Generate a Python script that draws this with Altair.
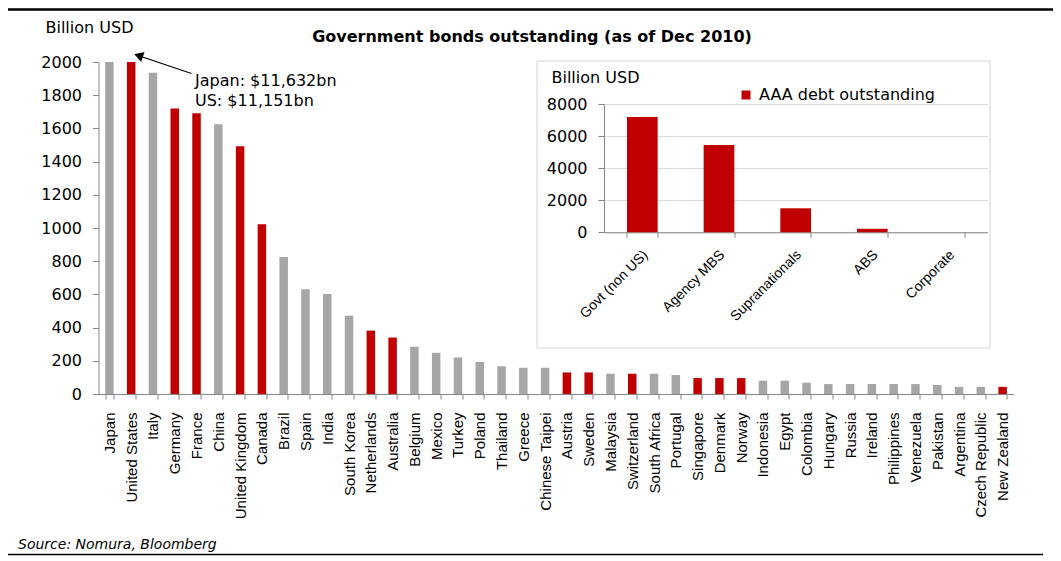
import altair as alt
import pandas as pd

# ---------------- data ----------------
countries = [
    "Japan", "United States", "Italy", "Germany", "France", "China",
    "United Kingdom", "Canada", "Brazil", "Spain", "India", "South Korea",
    "Netherlands", "Australia", "Belgium", "Mexico", "Turkey", "Poland",
    "Thailand", "Greece", "Chinese Taipei", "Austria", "Sweden", "Malaysia",
    "Switzerland", "South Africa", "Portugal", "Singapore", "Denmark",
    "Norway", "Indonesia", "Egypt", "Colombia", "Hungary", "Russia",
    "Ireland", "Philippines", "Venezuela", "Pakistan", "Argentina",
    "Czech Republic", "New Zealand",
]
values = [
    11632, 11151, 1935, 1720, 1692, 1625,
    1492, 1022, 825, 631, 603, 472,
    382, 340, 285, 248, 220, 193,
    167, 158, 158, 130, 130, 122,
    122, 122, 114, 96, 96,
    96, 80, 80, 68, 60, 60,
    60, 60, 60, 54, 43,
    43, 43,
]
aaa_countries = [
    "United States", "Germany", "France", "United Kingdom", "Canada",
    "Netherlands", "Australia", "Austria", "Sweden", "Switzerland",
    "Singapore", "Denmark", "Norway", "New Zealand",
]
main_y_ticks = [0, 200, 400, 600, 800, 1000, 1200, 1400, 1600, 1800, 2000]

inset_categories = ["Govt (non US)", "Agency MBS", "Supranationals", "ABS", "Corporate"]
inset_values = [7200, 5450, 1500, 220, 0]
inset_y_ticks = [0, 2000, 4000, 6000, 8000]

title_text = "Government bonds outstanding (as of Dec 2010)"
annotation_lines = ["Japan:  $11,632bn", "US: $11,151bn"]
source_text = "Source: Nomura, Bloomberg"
unit_text = "Billion USD"
legend_label = "AAA  debt outstanding"

RED = "#C00000"
GREY = "#A6A6A6"
AXIS = "#868686"
HFONT = "DejaVu Sans"
VFONT = "Liberation Sans"

# ---------------- layout (plot area in pixels) ----------------
W, H = 915, 332
PAD = {"left": 90.5, "top": 54, "right": 39.5, "bottom": 163}
IX0, IX1 = 505.5, 888.8      # inset x range inside plot coords
IY0, IY1 = 170.3, 42.3       # inset y range (0 -> 8000)

# ---------------- main bars ----------------
df = pd.DataFrame({
    "country": countries,
    "value": values,
    "rating": ["AAA" if c in aaa_countries else "Other" for c in countries],
})

bars = alt.Chart(df).mark_bar().encode(
    x=alt.X(
        "country:N", sort=countries,
        scale=alt.Scale(paddingInner=0.61, paddingOuter=0.305),
        axis=alt.Axis(
            title=None, orient="bottom", labelAngle=270, labelAlign="right",
            labelBaseline="middle", labelFont=VFONT, labelFontSize=15,
            labelColor="black", labelPadding=13, labelOverlap=False,
            labelLimit=0, tickBand="extent", tickSize=5, tickColor=AXIS,
            domainColor=AXIS, grid=False,
        ),
    ),
    y=alt.Y(
        "value:Q",
        scale=alt.Scale(domain=[0, 2000], clamp=True, nice=False),
        axis=alt.Axis(
            orient="left", values=main_y_ticks, format="d", grid=False,
            title=unit_text, titleAngle=0, titleX=-53.5, titleY=-35,
            titleAlign="left", titleBaseline="middle", titleFont=HFONT,
            titleFontSize=16, titleFontWeight="normal", titleColor="black",
            labelFont=HFONT, labelFontSize=16, labelColor="black",
            tickSize=6, labelPadding=11, tickColor=AXIS, domainColor=AXIS,
        ),
    ),
    color=alt.Color(
        "rating:N",
        scale=alt.Scale(domain=["AAA", "Other"], range=[RED, GREY]),
        legend=None,
    ),
)

# ---------------- inset frame (outline only) ----------------
box = alt.Chart(pd.DataFrame({"k": [0]})).mark_rect(
    fill="white", fillOpacity=0, stroke="#D4D4D4", strokeWidth=1
).encode(
    x=alt.value(438.5), x2=alt.value(891.5), y=alt.value(-1), y2=alt.value(286)
)

# ---------------- inset bars ----------------
idf = pd.DataFrame({
    "category": inset_categories,
    "value": inset_values,
    "series": [legend_label] * len(inset_categories),
})

inset = alt.Chart(idf).mark_bar().encode(
    x=alt.X(
        "category:N", sort=inset_categories,
        scale=alt.Scale(range=[IX0, IX1], paddingInner=0.6, paddingOuter=0.3),
        axis=alt.Axis(
            title=None, orient="bottom", offset=-(H - IY0), labelAngle=315,
            labelAlign="right", labelBaseline="middle", labelFont=VFONT,
            labelFontSize=14, labelColor="black", labelPadding=15,
            labelOffset=3, labelOverlap=False, labelLimit=0,
            tickBand="extent", tickSize=5, tickColor=AXIS, domainColor=AXIS,
            grid=False,
        ),
    ),
    y=alt.Y(
        "value:Q",
        scale=alt.Scale(domain=[0, 8000], range=[IY0, IY1], nice=False),
        axis=alt.Axis(
            orient="left", offset=-IX0, values=inset_y_ticks, format="d",
            grid=True, gridColor="#D9D9D9", gridWidth=1,
            title=unit_text, titleAngle=0, titleX=-53, titleY=15,
            titleAlign="left", titleBaseline="middle", titleFont=HFONT,
            titleFontSize=16, titleFontWeight="normal", titleColor="black",
            labelFont=HFONT, labelFontSize=16, labelColor="black",
            tickSize=6, labelPadding=11, tickColor=AXIS, domainColor=AXIS,
        ),
    ),
    color=alt.Color(
        "series:N",
        scale=alt.Scale(domain=[legend_label], range=[RED]),
        legend=alt.Legend(
            orient="none", legendX=639.5, legendY=25, title=None,
            symbolType="square", symbolSize=81, symbolStrokeWidth=0,
            labelFont=HFONT, labelFontSize=16, labelColor="black",
            labelOffset=5, labelLimit=0, padding=0,
        ),
    ),
)

# ---------------- texts and decorations ----------------
def text_layer(txt, x, y, size, align="left", weight="normal", style="normal"):
    return alt.Chart(pd.DataFrame({"t": [txt]})).mark_text(
        align=align, baseline="middle", font=HFONT, fontSize=size,
        fontWeight=weight, fontStyle=style, color="black",
    ).encode(text="t:N", x=alt.value(x), y=alt.value(y))

title = text_layer(title_text, 433.5, -25, 16, align="center", weight="bold")
ann1 = text_layer(annotation_lines[0], 96.5, 19, 16)
ann2 = text_layer(annotation_lines[1], 96.5, 38.5, 16)
source = text_layer(source_text, -80.5, 483, 14, style="italic")

arrow_line = alt.Chart(pd.DataFrame({"k": [0]})).mark_rule(
    color="black", strokeWidth=1.3
).encode(x=alt.value(93), y=alt.value(11.5), x2=alt.value(44), y2=alt.value(-5))

arrow_head = alt.Chart(pd.DataFrame({"k": [0]})).mark_point(
    shape="triangle", filled=True, color="black", size=110, angle=288, opacity=1
).encode(x=alt.value(41.5), y=alt.value(-6))

top_line = alt.Chart(pd.DataFrame({"k": [0]})).mark_rule(
    color="black", strokeWidth=2.5
).encode(x=alt.value(-90.5), x2=alt.value(954.5), y=alt.value(-52.5))

bottom_line = alt.Chart(pd.DataFrame({"k": [0]})).mark_rule(
    color="black", strokeWidth=1.5
).encode(x=alt.value(-90.5), x2=alt.value(944.5), y=alt.value(492.5))

chart = alt.layer(
    bars, box, inset, title, ann1, ann2, arrow_line, arrow_head, source,
    top_line, bottom_line,
).resolve_scale(
    x="independent", y="independent", color="independent"
).properties(
    width=W, height=H, padding=PAD,
    autosize=alt.AutoSizeParams(type="none"),
    background="white",
).configure_view(stroke=None)

chart.save("out.html", embed_options={"renderer": "svg", "actions": False})
